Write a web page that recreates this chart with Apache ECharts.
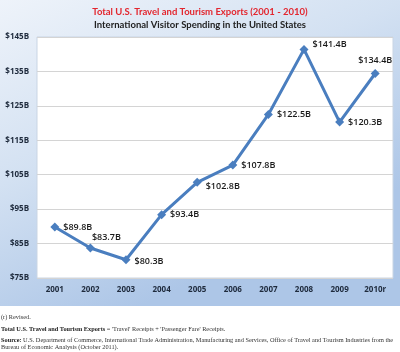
<!DOCTYPE html>
<html>
<head>
<meta charset="utf-8">
<script src="https://cdn.jsdelivr.net/npm/echarts@6/dist/echarts.min.js"></script>
<style>
  html, body { margin: 0; padding: 0; background: #fff; }
  #chart { width: 400px; height: 352px; }
</style>
</head>
<body>
<div id="chart"></div>
<script>
const years = ["2001", "2002", "2003", "2004", "2005", "2006", "2007", "2008", "2009", "2010r"];
const spending = [89.8, 83.7, 80.3, 93.4, 102.8, 107.8, 122.5, 141.4, 120.3, 134.4];
// where each value label sits relative to its point
const labelPlaces = ["right", "top", "right", "right", "right", "right", "right", "right", "right", "top"];
const labelShifts = [[0, 0], [16, 2], [0, 2], [0, 0], [0, 4], [0, 0], [0, 0], [0, -5], [0, 0], [0, 0]];

const chart = echarts.init(document.getElementById("chart"));

const option = {
    backgroundColor: "#fff",
    animation: false,
    title: [
        {
            text: "Total U.S. Travel and Tourism Exports (2001 - 2010)",
            left: "center",
            top: 2,
            textStyle: { color: "#e3262e", fontSize: 9.5, fontWeight: "bold", fontFamily: "Lato" }
        },
        {
            text: "International Visitor Spending in the United States",
            left: "center",
            top: 15,
            textStyle: { color: "#222", fontSize: 9.5, fontWeight: "bold", fontFamily: "Lato" }
        }
    ],
    graphic: [
        {
            type: "rect",
            z: -10,
            shape: { x: 0, y: 0, width: 400, height: 306 },
            style: {
                fill: new echarts.graphic.LinearGradient(0, 0, 0.35, 1, [
                    { offset: 0, color: "#eef3fa" },
                    { offset: 0.5, color: "#d3e1f2" },
                    { offset: 1, color: "#adc6e7" }
                ])
            }
        },
        {
            type: "text",
            left: 1,
            top: 314,
            style: { text: "(r) Revised.", font: "6.3px 'Liberation Serif'", fill: "#333" }
        },
        {
            type: "text",
            left: 1,
            top: 326,
            style: {
                text: "{b|Total U.S. Travel and Tourism Exports} = 'Travel' Receipts + 'Passenger Fare' Receipts.",
                font: "6.3px 'Liberation Serif'",
                fill: "#333",
                rich: { b: { fontWeight: "bold", fontSize: 6.3, fontFamily: "Liberation Serif", fill: "#222" } }
            }
        },
        {
            type: "text",
            left: 1,
            top: 337,
            style: {
                text: "{b|Source:} U.S. Department of Commerce, International Trade Administration, Manufacturing and Services, Office of Travel and Tourism Industries from the\nBureau of Economic Analysis (October 2011).",
                font: "6.3px 'Liberation Serif'",
                lineHeight: 7,
                fill: "#333",
                rich: { b: { fontWeight: "bold", fontSize: 6.3, fontFamily: "Liberation Serif", fill: "#222" } }
            }
        }
    ],
    grid: {
        left: 37,
        right: 7,
        top: 37,
        bottom: 74,
        show: true,
        backgroundColor: "#fff",
        borderColor: "#c9d5e4",
        borderWidth: 1
    },
    xAxis: {
        type: "category",
        data: years,
        boundaryGap: true,
        axisLine: { show: false },
        axisTick: { show: false },
        axisLabel: {
            margin: 8,
            color: "#1e2a3c",
            fontSize: 8,
            fontWeight: "bold",
            fontFamily: "Open Sans"
        }
    },
    yAxis: {
        type: "value",
        min: 75,
        max: 145,
        interval: 5,
        axisLine: { show: false },
        axisTick: { show: false },
        axisLabel: {
            margin: 8,
            color: "#1e2a3c",
            fontSize: 8,
            fontWeight: "bold",
            fontFamily: "Open Sans",
            formatter: v => ((v - 75) % 10 === 0 ? "$" + v + "B" : "")
        },
        splitLine: {
            lineStyle: { color: ["#d4d4d4", "rgba(0,0,0,0)"], width: 1 }
        }
    },
    series: [
        {
            type: "line",
            data: spending.map((v, i) => ({
                value: v,
                label: { position: labelPlaces[i], offset: labelShifts[i] }
            })),
            symbol: "diamond",
            symbolSize: 9,
            lineStyle: { color: "#4a7ebf", width: 3 },
            itemStyle: { color: "#4a7ebf" },
            label: {
                show: true,
                distance: 4,
                color: "#1a1a1a",
                fontSize: 9,
                fontWeight: 600,
                fontFamily: "Open Sans",
                formatter: p => "$" + p.value.toFixed(1) + "B"
            }
        }
    ]
};

chart.setOption(option);
</script>
</body>
</html>
